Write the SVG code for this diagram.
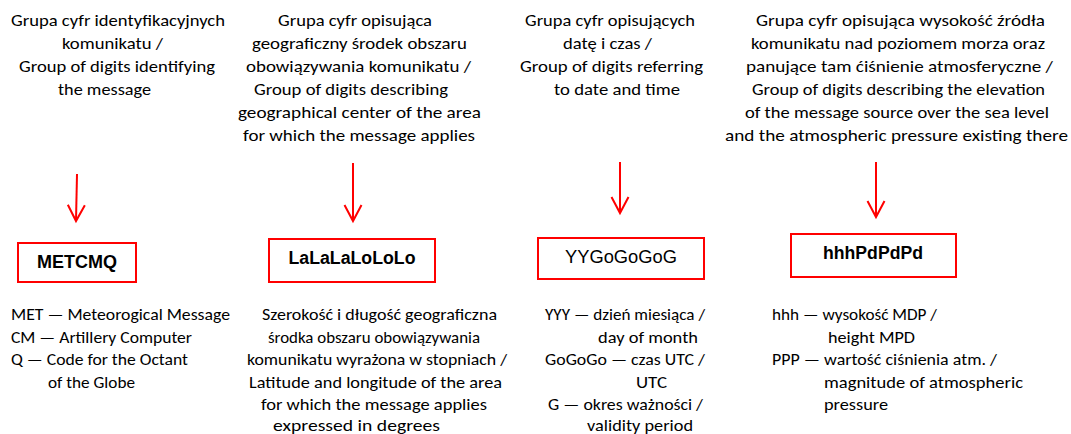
<svg xmlns="http://www.w3.org/2000/svg" width="1071" height="434" viewBox="0 0 1071 434">
  <style>
    .lbl { font-family: Carlito, Lato, "Open Sans", sans-serif; font-size: 17px; fill: #000; }
    .code { font-family: "Liberation Sans", Arial, sans-serif; font-size: 18px; fill: #000; text-anchor: middle; }
    .bold { font-weight: bold; }
    .box { fill: #fff; stroke: #ff0000; stroke-width: 2; }
    .arrow { stroke: #ff0000; stroke-width: 2; fill: none; marker-end: url(#vhead); }
  </style>
  <defs>
    <marker id="vhead" markerUnits="userSpaceOnUse" markerWidth="40" markerHeight="40" refX="0" refY="0" orient="auto" overflow="visible">
      <path d="M-16,-8.5 L0,0 L-16,8.5" fill="none" stroke="#ff0000" stroke-width="2"/>
    </marker>
  </defs>
  <rect width="1071" height="434" fill="#fff"/>

  <!-- column 1: message identification -->
  <g id="met-label">
    <text class="lbl" x="11" y="26" textLength="214" lengthAdjust="spacingAndGlyphs">Grupa cyfr identyfikacyjnych</text>
    <text class="lbl" x="62" y="49" textLength="101" lengthAdjust="spacingAndGlyphs">komunikatu /</text>
    <text class="lbl" x="19" y="72" textLength="196" lengthAdjust="spacingAndGlyphs">Group of digits identifying</text>
    <text class="lbl" x="58" y="95" textLength="93" lengthAdjust="spacingAndGlyphs">the message</text>
  </g>
  <g id="met-box">
    <rect class="box" x="18" y="243" width="118" height="39"/>
    <text class="code bold" x="77" y="268">METCMQ</text>
  </g>
  <g id="met-notes">
    <text class="lbl" x="11" y="320" textLength="219" lengthAdjust="spacingAndGlyphs">MET — Meteorogical Message</text>
    <text class="lbl" x="11" y="342.5" textLength="181" lengthAdjust="spacingAndGlyphs">CM — Artillery Computer</text>
    <text class="lbl" x="11" y="365" textLength="177" lengthAdjust="spacingAndGlyphs">Q — Code for the Octant</text>
    <text class="lbl" x="48" y="387.5" textLength="87" lengthAdjust="spacingAndGlyphs">of the Globe</text>
  </g>

  <!-- column 2: geographical centre -->
  <g id="lalo-label">
    <text class="lbl" x="278" y="26" textLength="154" lengthAdjust="spacingAndGlyphs">Grupa cyfr opisująca</text>
    <text class="lbl" x="252" y="49" textLength="215" lengthAdjust="spacingAndGlyphs">geograficzny środek obszaru</text>
    <text class="lbl" x="246" y="72" textLength="225" lengthAdjust="spacingAndGlyphs">obowiązywania komunikatu /</text>
    <text class="lbl" x="254" y="95" textLength="194" lengthAdjust="spacingAndGlyphs">Group of digits describing</text>
    <text class="lbl" x="238" y="118" textLength="243" lengthAdjust="spacingAndGlyphs">geographical center of the area</text>
    <text class="lbl" x="243" y="141" textLength="232" lengthAdjust="spacingAndGlyphs">for which the message applies</text>
  </g>
  <g id="lalo-box">
    <rect class="box" x="269" y="239" width="166" height="43"/>
    <text class="code bold" x="352" y="264" textLength="127" lengthAdjust="spacingAndGlyphs">LaLaLaLoLoLo</text>
  </g>
  <g id="lalo-notes">
    <text class="lbl" x="262" y="320" textLength="235" lengthAdjust="spacingAndGlyphs">Szerokość i długość geograficzna</text>
    <text class="lbl" x="268" y="342.5" textLength="212" lengthAdjust="spacingAndGlyphs">środka obszaru obowiązywania</text>
    <text class="lbl" x="247" y="365" textLength="260" lengthAdjust="spacingAndGlyphs">komunikatu wyrażona w stopniach /</text>
    <text class="lbl" x="249" y="387.5" textLength="253" lengthAdjust="spacingAndGlyphs">Latitude and longitude of the area</text>
    <text class="lbl" x="261" y="410" textLength="226" lengthAdjust="spacingAndGlyphs">for which the message applies</text>
    <text class="lbl" x="273" y="431" textLength="167" lengthAdjust="spacingAndGlyphs">expressed in degrees</text>
  </g>

  <!-- column 3: date and time -->
  <g id="date-label">
    <text class="lbl" x="525" y="26" textLength="170" lengthAdjust="spacingAndGlyphs">Grupa cyfr opisujących</text>
    <text class="lbl" x="563" y="49" textLength="89" lengthAdjust="spacingAndGlyphs">datę i czas /</text>
    <text class="lbl" x="520" y="72" textLength="183" lengthAdjust="spacingAndGlyphs">Group of digits referring</text>
    <text class="lbl" x="554" y="95" textLength="126" lengthAdjust="spacingAndGlyphs">to date and time</text>
  </g>
  <g id="date-box">
    <rect class="box" x="538" y="238" width="166" height="41"/>
    <text class="code" x="621" y="263" textLength="112" lengthAdjust="spacingAndGlyphs">YYGoGoGoG</text>
  </g>
  <g id="date-notes">
    <text class="lbl" x="545" y="320" textLength="160" lengthAdjust="spacingAndGlyphs">YYY — dzień miesiąca /</text>
    <text class="lbl" x="598" y="342.5" textLength="100" lengthAdjust="spacingAndGlyphs">day of month</text>
    <text class="lbl" x="545" y="365" textLength="160" lengthAdjust="spacingAndGlyphs">GoGoGo — czas UTC /</text>
    <text class="lbl" x="636" y="387.5" textLength="31" lengthAdjust="spacingAndGlyphs">UTC</text>
    <text class="lbl" x="548" y="410" textLength="155" lengthAdjust="spacingAndGlyphs">G — okres ważności /</text>
    <text class="lbl" x="587" y="431" textLength="106" lengthAdjust="spacingAndGlyphs">validity period</text>
  </g>

  <!-- column 4: elevation and pressure -->
  <g id="elev-label">
    <text class="lbl" x="756" y="26" textLength="289" lengthAdjust="spacingAndGlyphs">Grupa cyfr opisująca wysokość źródła</text>
    <text class="lbl" x="751" y="49" textLength="294" lengthAdjust="spacingAndGlyphs">komunikatu nad poziomem morza oraz</text>
    <text class="lbl" x="746" y="72" textLength="307" lengthAdjust="spacingAndGlyphs">panujące tam ćiśnienie atmosferyczne /</text>
    <text class="lbl" x="752" y="95" textLength="293" lengthAdjust="spacingAndGlyphs">Group of digits describing the elevation</text>
    <text class="lbl" x="745" y="118" textLength="304" lengthAdjust="spacingAndGlyphs">of the message source over the sea level</text>
    <text class="lbl" x="725" y="141" textLength="343" lengthAdjust="spacingAndGlyphs">and the atmospheric pressure existing there</text>
  </g>
  <g id="elev-box">
    <rect class="box" x="791" y="234" width="165" height="43"/>
    <text class="code bold" x="873" y="259" textLength="100" lengthAdjust="spacingAndGlyphs">hhhPdPdPd</text>
  </g>
  <g id="elev-notes">
    <text class="lbl" x="772" y="320" textLength="165" lengthAdjust="spacingAndGlyphs">hhh — wysokość MDP /</text>
    <text class="lbl" x="828" y="342.5" textLength="87" lengthAdjust="spacingAndGlyphs">height MPD</text>
    <text class="lbl" x="772" y="365" textLength="225" lengthAdjust="spacingAndGlyphs">PPP — wartość ciśnienia atm. /</text>
    <text class="lbl" x="824" y="387.5" textLength="199" lengthAdjust="spacingAndGlyphs">magnitude of atmospheric</text>
    <text class="lbl" x="824" y="410" textLength="64" lengthAdjust="spacingAndGlyphs">pressure</text>
  </g>

  <!-- connectors: label to code box -->
  <g id="connectors">
    <line class="arrow" x1="77" y1="174" x2="76" y2="221"/>
    <line class="arrow" x1="353" y1="163" x2="353" y2="221"/>
    <line class="arrow" x1="620" y1="162" x2="620" y2="213"/>
    <line class="arrow" x1="876" y1="162" x2="876" y2="217"/>
  </g>
</svg>
